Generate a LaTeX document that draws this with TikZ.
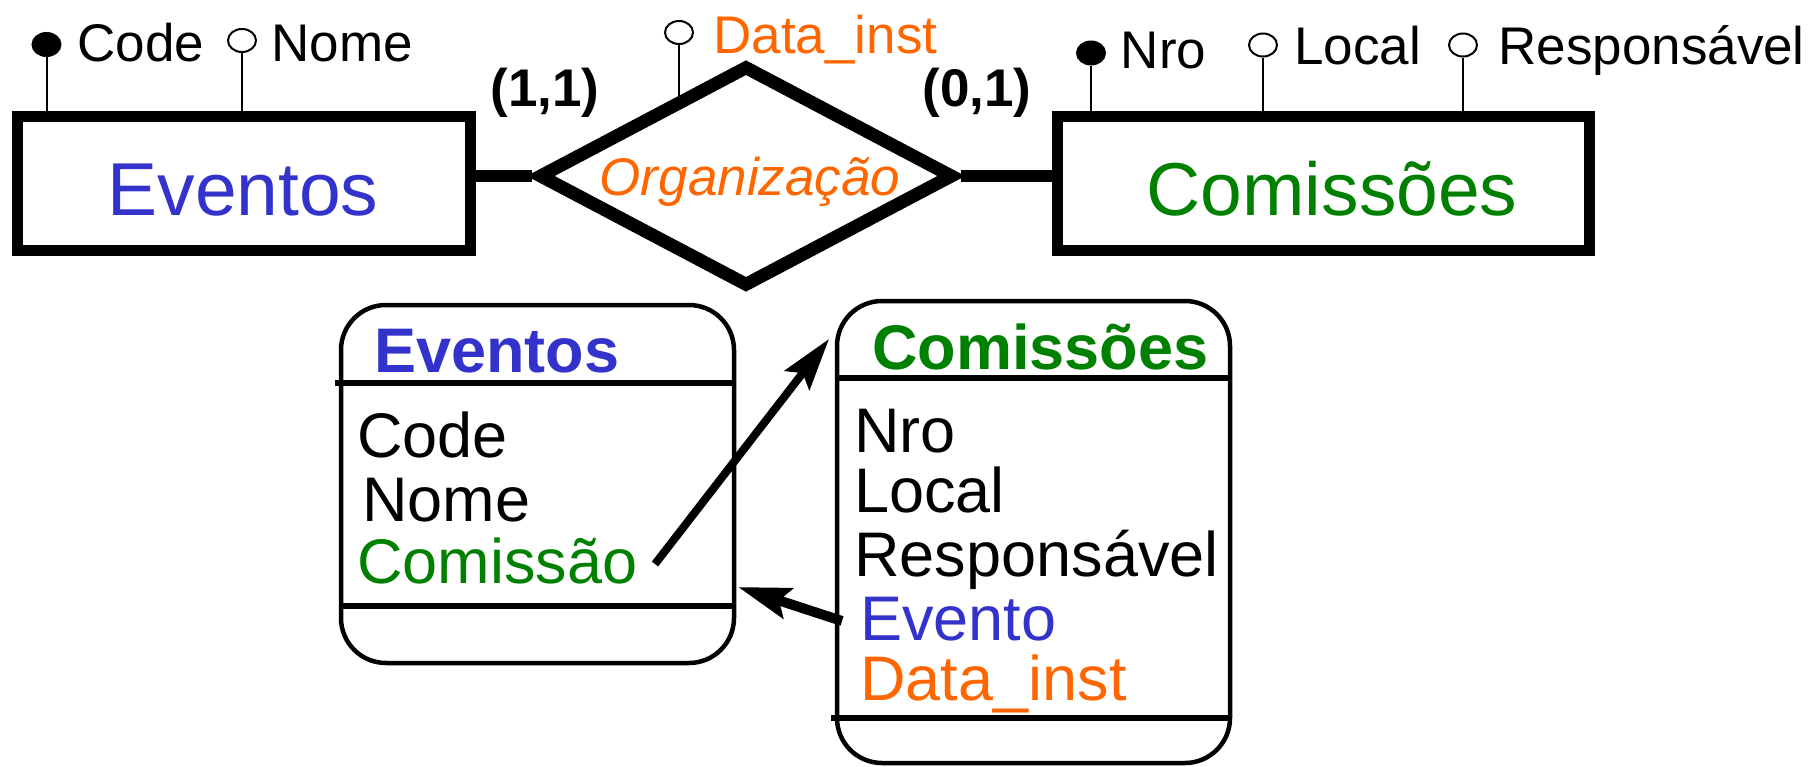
\documentclass[tikz,border=0pt]{standalone}
\usepackage{fontspec}
\setmainfont{Liberation Sans}
\usepackage{tikz}
\usetikzlibrary{arrows.meta,shapes.geometric,calc}
\definecolor{entblue}{RGB}{51,51,204}
\definecolor{entgreen}{RGB}{0,128,0}
\definecolor{relorange}{RGB}{255,102,0}

\begin{document}
\begin{tikzpicture}[x=0.5pt,y=-0.5pt,
  entity/.style={draw,line width=5.5pt,rectangle,minimum height=67pt,inner sep=0pt},
  entname/.style={anchor=base,inner sep=0pt,font=\fontsize{37.5}{41}\selectfont},
  relation/.style={draw,line width=6.5pt,diamond,aspect=1.9,minimum width=208pt,minimum height=111pt,inner sep=0pt},
  relname/.style={anchor=base,inner sep=0pt,text=relorange,font=\fontsize{26.5}{30}\selectfont\itshape},
  link/.style={line width=5.75pt},
  attrdot/.style={ellipse,draw,line width=1pt,minimum width=14pt,minimum height=11.5pt,inner sep=0pt},
  keydot/.style={attrdot,fill=black},
  stem/.style={line width=1pt},
  attrtext/.style={anchor=base west,inner sep=0pt,font=\fontsize{26.5}{30}\selectfont},
  card/.style={inner sep=0pt,font=\fontsize{26.5}{30}\selectfont\bfseries},
  tablebox/.style={draw,line width=2.25pt,rounded corners=22.5pt,minimum width=196.5pt,inner sep=0pt},
  tabline/.style={line width=2.75pt},
  tabhead/.style={anchor=base west,inner sep=0pt,font=\fontsize{31.5}{36}\selectfont\bfseries},
  tabrow/.style={anchor=base west,inner sep=0pt,font=\fontsize{31.5}{36}\selectfont},
  fk/.style={line width=4pt,-{Stealth[length=26pt,width=15.5pt,inset=4.5pt]}}
]
\useasboundingbox (0,0) rectangle (1815,766);

\node[entity,minimum width=226.5pt] (ev) at (243.5,183.5) {};
\node[entname,text=entblue] (evname) at (243,215) {Eventos};
\node[entity,minimum width=266pt] (com) at (1323,183.5) {};
\node[entname,text=entgreen] (comname) at (1332,215) {Comissões};
\node[relation] (org) at (746,176) {};
\node[relname] (orgname) at (750,195) {Organização};
\draw[link] (ev.east |- org.west) -- (org.west);
\draw[link] (org.east) -- (org.east -| com.west);

\node[card] (c11) at (545,93) {(1,1)};
\node[card] (c01) at (977,93) {(0,1)};

\node[keydot] (kcode) at (46.5,44.5) {};
\draw[stem] (kcode) -- (kcode |- ev.north);
\node[attrtext] (tcode) at (77,61) {Code};
\node[attrdot] (anome) at (242,40.5) {};
\draw[stem] (anome) -- (anome |- ev.north);
\node[attrtext] (tnome) at (271,61) {Nome};

\node[attrdot] (adata) at (679,32.5) {};
\draw[stem] (adata) -- (adata |- org.132);
\node[attrtext,text=relorange] (tdata) at (713,53) {Data\_inst};

\node[keydot] (knro) at (1091,53) {};
\draw[stem] (knro) -- (knro |- com.north);
\node[attrtext] (tnro) at (1120.5,68) {Nro};
\node[attrdot] (aloc) at (1263,45) {};
\draw[stem] (aloc) -- (aloc |- com.north);
\node[attrtext] (tloc) at (1294,64) {Local};
\node[attrdot] (aresp) at (1463,45) {};
\draw[stem] (aresp) -- (aresp |- com.north);
\node[attrtext] (tresp) at (1498,64) {Responsável};

\node[tablebox,minimum height=179pt] (tev) at (537.5,484) {};
\coordinate (tevh) at (335,383);
\coordinate (tevb) at (tev.west |- 0,606);
\draw[tabline] (tevh) -- (tevh -| tev.east);
\draw[tabline] (tevb) -- (tevb -| tev.east);
\node[tabhead,text=entblue] (hev) at (374,372) {Eventos};
\node[tabrow] (rcode) at (357,457) {Code};
\node[tabrow] (rnome) at (362,521) {Nome};
\node[tabrow,text=entgreen] (rcom) at (357,583) {Comissão};

\node[tablebox,minimum height=231pt] (tcom) at (1033.5,532) {};
\coordinate (tcomh) at (tcom.west |- 0,378);
\coordinate (tcomb) at (831,718);
\draw[tabline] (tcomh) -- (tcomh -| tcom.east);
\draw[tabline] (tcomb) -- (tcomb -| tcom.east);
\node[tabhead,text=entgreen] (hcom) at (872,369) {Comissões};
\node[tabrow] (rnro) at (854,452) {Nro};
\node[tabrow] (rloc) at (854,512) {Local};
\node[tabrow] (rresp) at (854,576) {Responsável};
\node[tabrow,text=entblue] (revt) at (860,640) {Evento};
\node[tabrow,text=relorange] (rdata) at (860,700) {Data\_inst};

\coordinate (fk1s) at (655,564);
\coordinate (fk1e) at (829,339);
\draw[fk] (fk1s) -- (fk1e);
\coordinate (fk2s) at (842,621);
\coordinate (fk2e) at (738,587);
\draw[fk,line width=5pt] (fk2s) -- (fk2e);
\end{tikzpicture}
\end{document}
